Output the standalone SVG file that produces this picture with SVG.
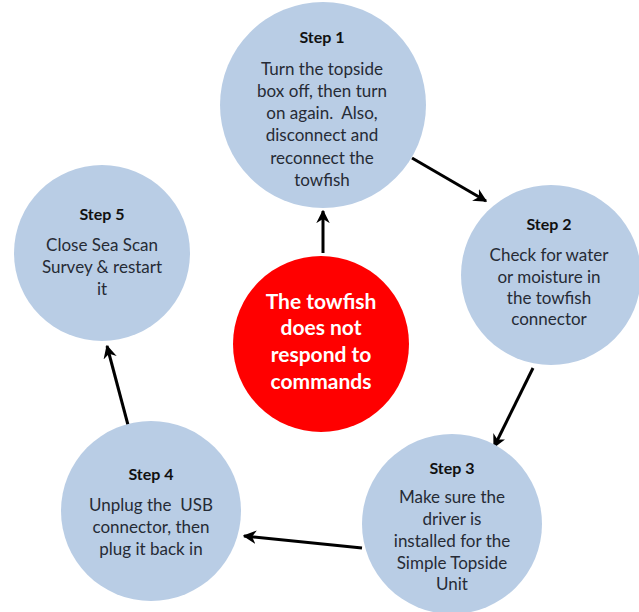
<svg xmlns="http://www.w3.org/2000/svg" width="639" height="612" viewBox="0 0 639 612">
<defs>
<style>
.step{fill:#b9cde5}
.title{font-family:Lato,"Liberation Sans",sans-serif;font-weight:bold;font-size:16px;fill:#111;text-anchor:middle}
.body{font-family:Lato,"Liberation Sans",sans-serif;font-size:17px;fill:#262b35;text-anchor:middle}
.red{font-family:Lato,"Liberation Sans",sans-serif;font-weight:bold;font-size:21px;fill:#fff;text-anchor:middle}
.conn{stroke:#000;stroke-width:3;fill:none;marker-end:url(#ah)}
</style>
<marker id="ah" viewBox="0 0 10 10" refX="9" refY="5" markerWidth="4.5" markerHeight="4.5" orient="auto" markerUnits="strokeWidth">
<path d="M0,0 L10,5 L0,10 L3,5 Z" fill="#000"/>
</marker>
</defs>
<rect width="639" height="612" fill="#fff"/>
<g id="connectors">
<line class="conn" x1="323" y1="253" x2="323" y2="211"/>
<line class="conn" x1="412" y1="158" x2="486" y2="201"/>
<line class="conn" x1="533" y1="368" x2="494" y2="447"/>
<line class="conn" x1="362" y1="548" x2="244" y2="536"/>
<line class="conn" x1="128" y1="425" x2="107" y2="346"/>
</g>
<g id="step1">
<circle class="step" cx="323" cy="105" r="103"/>
<text class="title" x="322" y="43">Step 1</text>
<text class="body" x="322" y="75">Turn the topside</text>
<text class="body" x="322" y="97">box off, then turn</text>
<text class="body" x="322" y="119" xml:space="preserve">on again.  Also,</text>
<text class="body" x="322" y="141">disconnect and</text>
<text class="body" x="322" y="164">reconnect the</text>
<text class="body" x="322" y="186">towfish</text>
</g>
<g id="step2">
<circle class="step" cx="551" cy="275" r="90"/>
<text class="title" x="549" y="230">Step 2</text>
<text class="body" x="549" y="261">Check for water</text>
<text class="body" x="549" y="283">or moisture in</text>
<text class="body" x="549" y="304">the towfish</text>
<text class="body" x="549" y="325">connector</text>
</g>
<g id="step3">
<circle class="step" cx="452" cy="524" r="90"/>
<text class="title" x="452" y="474">Step 3</text>
<text class="body" x="452" y="503">Make sure the</text>
<text class="body" x="452" y="525">driver is</text>
<text class="body" x="452" y="547">installed for the</text>
<text class="body" x="452" y="569">Simple Topside</text>
<text class="body" x="452" y="590">Unit</text>
</g>
<g id="step4">
<circle class="step" cx="151" cy="511" r="90"/>
<text class="title" x="151" y="480">Step 4</text>
<text class="body" x="151" y="511" xml:space="preserve">Unplug the  USB</text>
<text class="body" x="151" y="533">connector, then</text>
<text class="body" x="151" y="555">plug it back in</text>
</g>
<g id="step5">
<circle class="step" cx="102" cy="253" r="88"/>
<text class="title" x="102" y="220">Step 5</text>
<text class="body" x="102" y="251">Close Sea Scan</text>
<text class="body" x="102" y="273">Survey &amp; restart</text>
<text class="body" x="102" y="295">it</text>
</g>
<g id="center">
<circle cx="321" cy="344" r="88" fill="#ff0000"/>
<text class="red" x="321" y="309">The towfish</text>
<text class="red" x="321" y="335">does not</text>
<text class="red" x="321" y="362">respond to</text>
<text class="red" x="321" y="389">commands</text>
</g>
</svg>
